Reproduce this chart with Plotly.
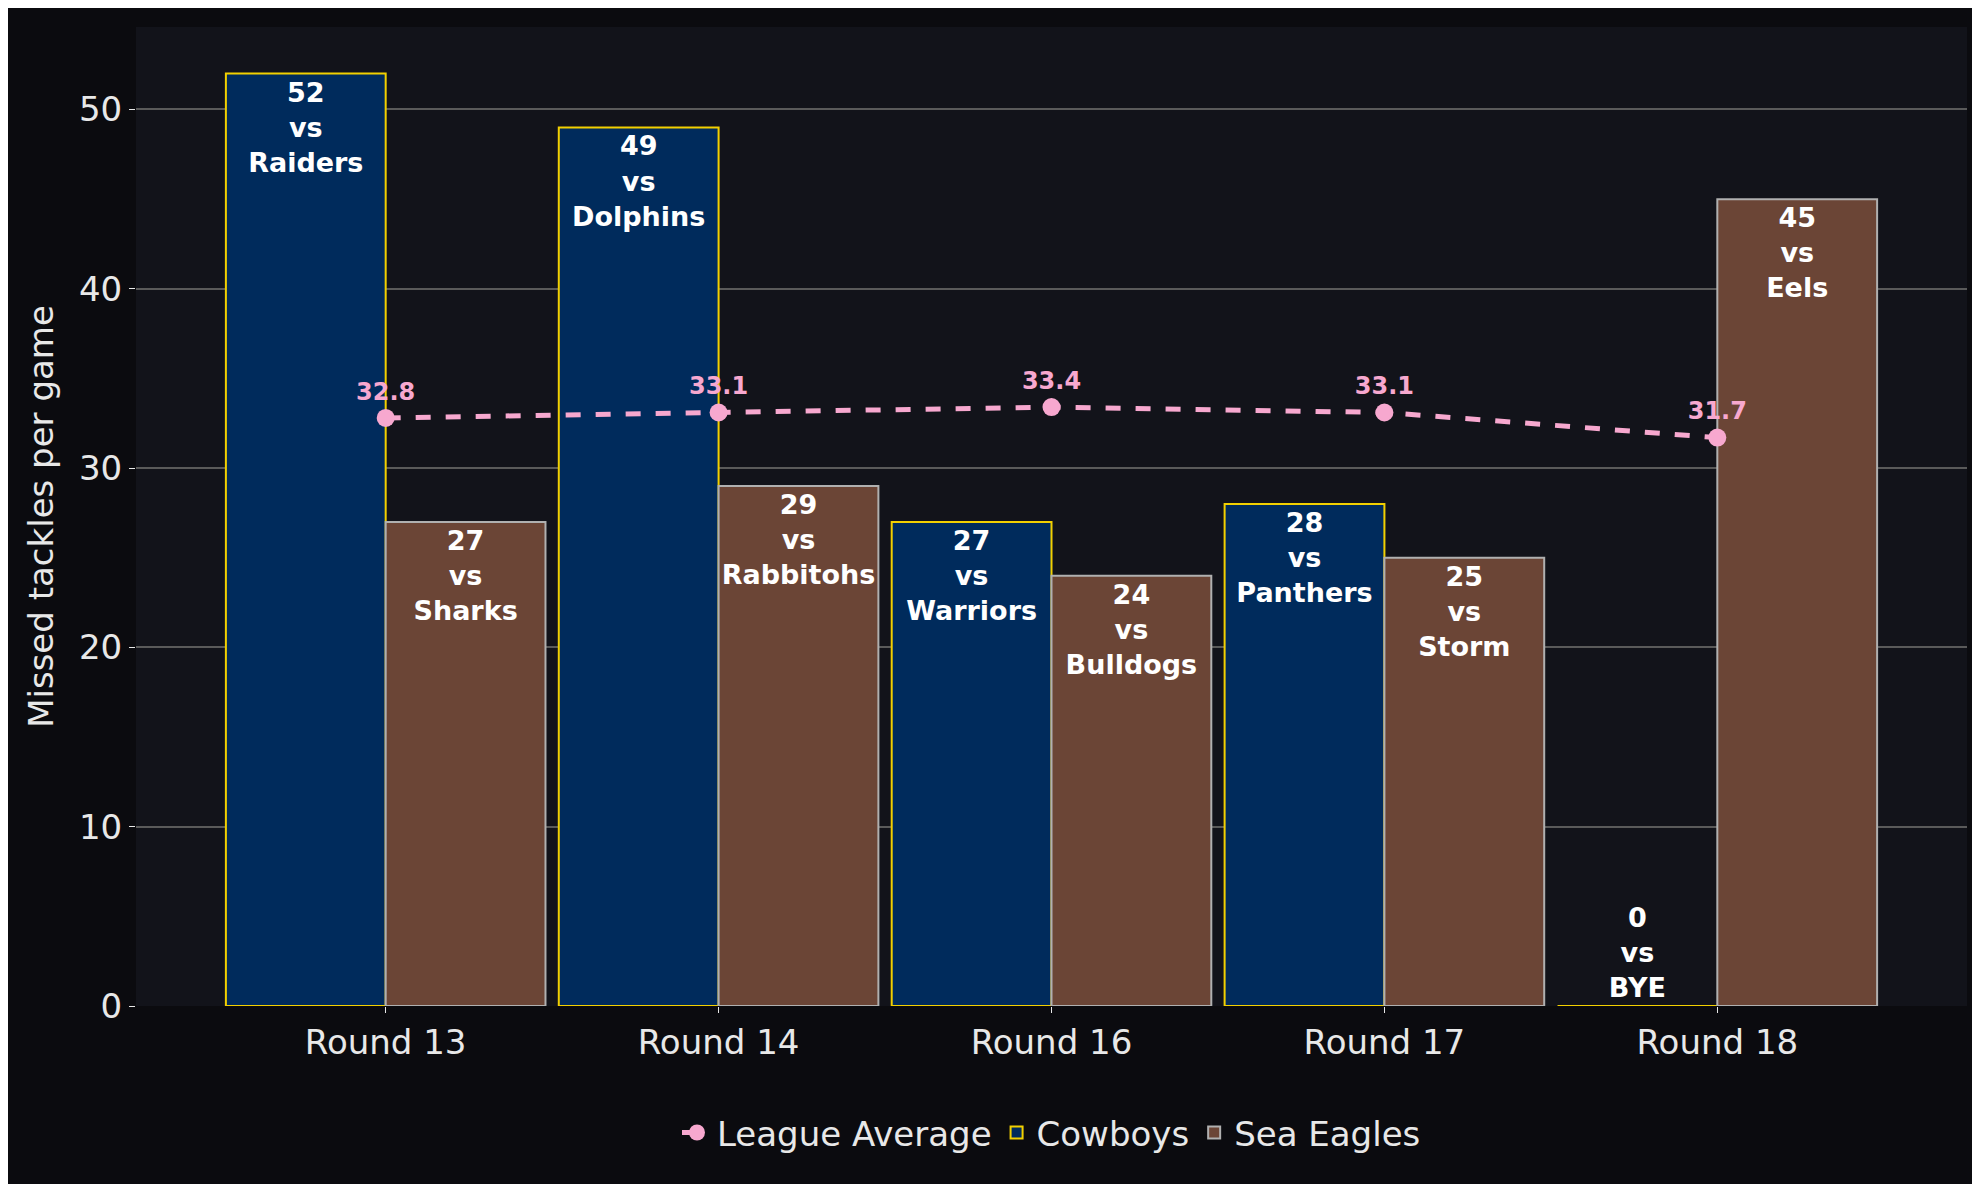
import plotly.graph_objects as go

rounds = ["Round 13", "Round 14", "Round 16", "Round 17", "Round 18"]
cowboys = [52, 49, 27, 28, 0]
cowboys_opp = ["Raiders", "Dolphins", "Warriors", "Panthers", "BYE"]
eagles = [27, 29, 24, 25, 45]
eagles_opp = ["Sharks", "Rabbitohs", "Bulldogs", "Storm", "Eels"]
league_avg = [32.8, 33.1, 33.4, 33.1, 31.7]

font = "DejaVu Sans"

fig = go.Figure()
fig.add_trace(go.Bar(
    x=rounds, y=cowboys, name="Cowboys", legendrank=2,
    marker=dict(color="#002b5c", line=dict(color="#f2d000", width=2)),
    text=[f"<b>{v}<br>vs<br>{o}</b>" for v, o in zip(cowboys, cowboys_opp)],
    textposition=["inside" if v > 0 else "outside" for v in cowboys],
    insidetextanchor="end", constraintext="none",
    textfont=dict(family=font, size=27, color="white"),
    cliponaxis=False,
))
fig.add_trace(go.Bar(
    x=rounds, y=eagles, name="Sea Eagles", legendrank=3,
    marker=dict(color="#6b4536", line=dict(color="#b0b0b0", width=2)),
    text=[f"<b>{v}<br>vs<br>{o}</b>" for v, o in zip(eagles, eagles_opp)],
    textposition="inside", insidetextanchor="end", constraintext="none",
    textfont=dict(family=font, size=27, color="white"),
))
fig.add_trace(go.Scatter(
    x=rounds, y=league_avg, name="League Average", legendrank=1,
    mode="lines+markers+text",
    line=dict(color="#f7a8cf", width=5, dash="dash"),
    marker=dict(color="#f7a8cf", size=18),
    text=[f"<b>{v}</b>" for v in league_avg], textposition="top center",
    textfont=dict(family=font, size=24, color="#f7a8cf"),
))

fig.update_layout(
    width=1980, height=1184,
    paper_bgcolor="#0b0b0f", plot_bgcolor="#12131a",
    font=dict(family=font, size=32, color="#e8e8e8"),
    margin=dict(l=128, r=21, t=19, b=186),
    barmode="group", bargap=0.04, bargroupgap=0,
    uniformtext=dict(minsize=8, mode="show"),
    xaxis=dict(range=[-0.75, 4.75], showgrid=False, ticks="outside", ticklen=6,
               tickcolor="#e8e8e8", tickfont=dict(size=34)),
    yaxis=dict(range=[0, 54.6], dtick=10, gridcolor="#5a5a5a", gridwidth=1.5,
               zeroline=False, ticks="outside", ticklen=6, tickcolor="#e8e8e8",
               title=dict(text="Missed tackles per game", font=dict(size=34)),
               tickfont=dict(size=34)),
    legend=dict(orientation="h", x=0.5, xanchor="center", y=-0.1, yanchor="top",
                font=dict(size=34)),
)

fig.write_html("out.html")
